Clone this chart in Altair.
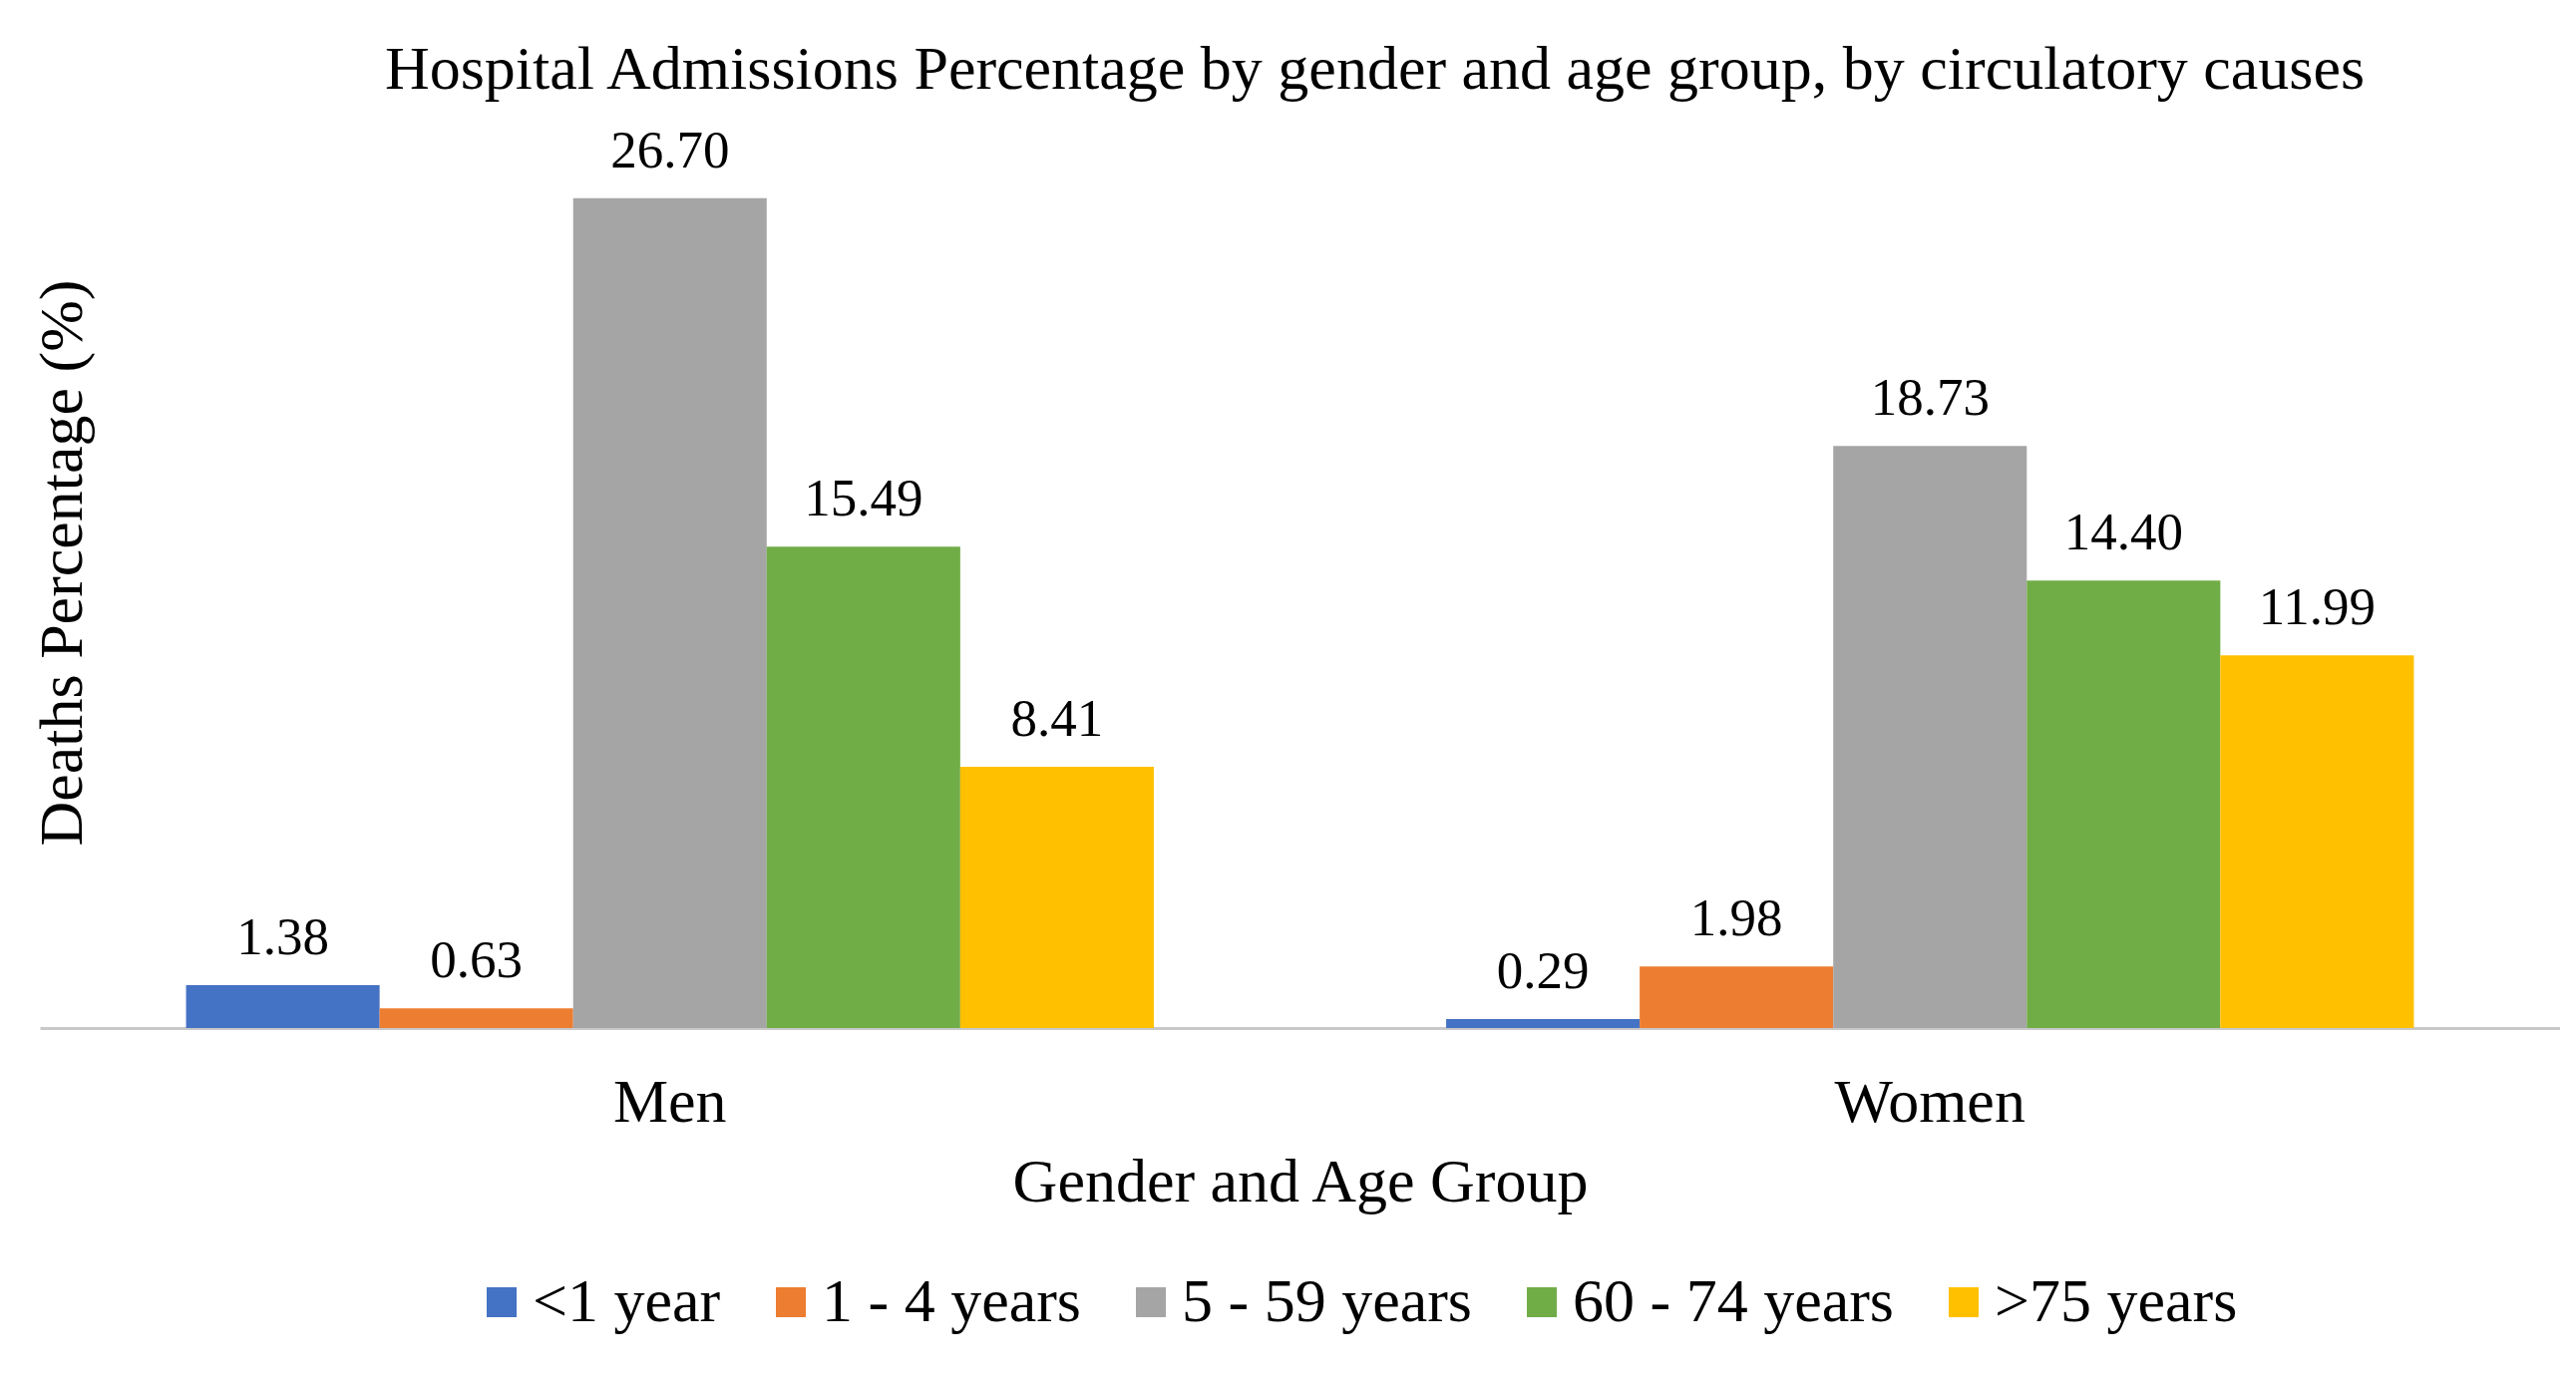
import altair as alt
import pandas as pd

genders = ["Men", "Women"]
age_groups = ["<1 year", "1 - 4 years", "5 - 59 years", "60 - 74 years", ">75 years"]
men_values = [1.38, 0.63, 26.70, 15.49, 8.41]
women_values = [0.29, 1.98, 18.73, 14.40, 11.99]
colors = ["#4472C4", "#ED7D31", "#A5A5A5", "#70AD47", "#FFC000"]

rows = []
for g, vals in zip(genders, [men_values, women_values]):
    for a, v in zip(age_groups, vals):
        rows.append({"gender": g, "age": a, "value": v})
df = pd.DataFrame(rows)

FONT = "Liberation Serif"
W = 2527
H = 935

x = alt.X(
    "gender:N", sort=genders, title="Gender and Age Group",
    scale=alt.Scale(paddingInner=0.232, paddingOuter=0.116),
    axis=alt.Axis(
        labelAngle=0, labelFont=FONT, labelFontSize=62, labelColor="black",
        labelBaseline="alphabetic", labelPadding=93, ticks=False, tickSize=0,
        labelLimit=0,
        domainColor="#c8c8c8", domainWidth=3, grid=False,
        titleFont=FONT, titleFontSize=62, titleFontWeight="normal", titleColor="black",
        titleBaseline="alphabetic", titleY=173, titleX=W / 2, titleAlign="center",
    ),
)
xo = alt.XOffset("age:N", sort=age_groups, scale=alt.Scale(paddingInner=0, paddingOuter=0))
y = alt.Y(
    "value:Q", scale=alt.Scale(domain=[0, 30], nice=False),
    axis=alt.Axis(
        labels=False, ticks=False, domain=False, grid=False,
        title="Deaths Percentage (%)", titleFont=FONT, titleFontSize=62,
        titleFontWeight="normal", titleColor="black",
        titleX=41, titleY=468, titleAngle=-90, titleAlign="center",
        titleBaseline="alphabetic",
    ),
)
color = alt.Color(
    "age:N", sort=age_groups,
    scale=alt.Scale(domain=age_groups, range=colors),
    legend=alt.Legend(
        title=None, orient="none", direction="horizontal",
        legendX=432, legendY=1179, padding=0,
        symbolType="square", symbolSize=900, symbolStrokeWidth=0,
        labelFont=FONT, labelFontSize=62, labelColor="black", labelLimit=0,
        labelOffset=0, columnPadding=39,
    ),
)

bars = alt.Chart(df).mark_bar().encode(x=x, xOffset=xo, y=y, color=color)
labels = alt.Chart(df).mark_text(
    font=FONT, fontSize=53, baseline="alphabetic", dy=-31, color="black"
).encode(x=x, xOffset=xo, y=y, text=alt.Text("value:Q", format=".2f"))

chart = alt.layer(bars, labels).properties(
    width=W, height=H,
    title=alt.TitleParams(
        text="Hospital Admissions Percentage by gender and age group, by circulatory causes",
        font=FONT, fontSize=62, fontWeight="normal", color="black",
        anchor="middle", frame="group", dx=75, offset=-55, baseline="alphabetic",
    ),
    padding={"left": 32, "top": 88, "right": 0, "bottom": 340},
    autosize=alt.AutoSizeParams(type="none"),
).configure_view(stroke=None)

chart.save("out.html", embed_options={"renderer": "svg", "actions": False})
